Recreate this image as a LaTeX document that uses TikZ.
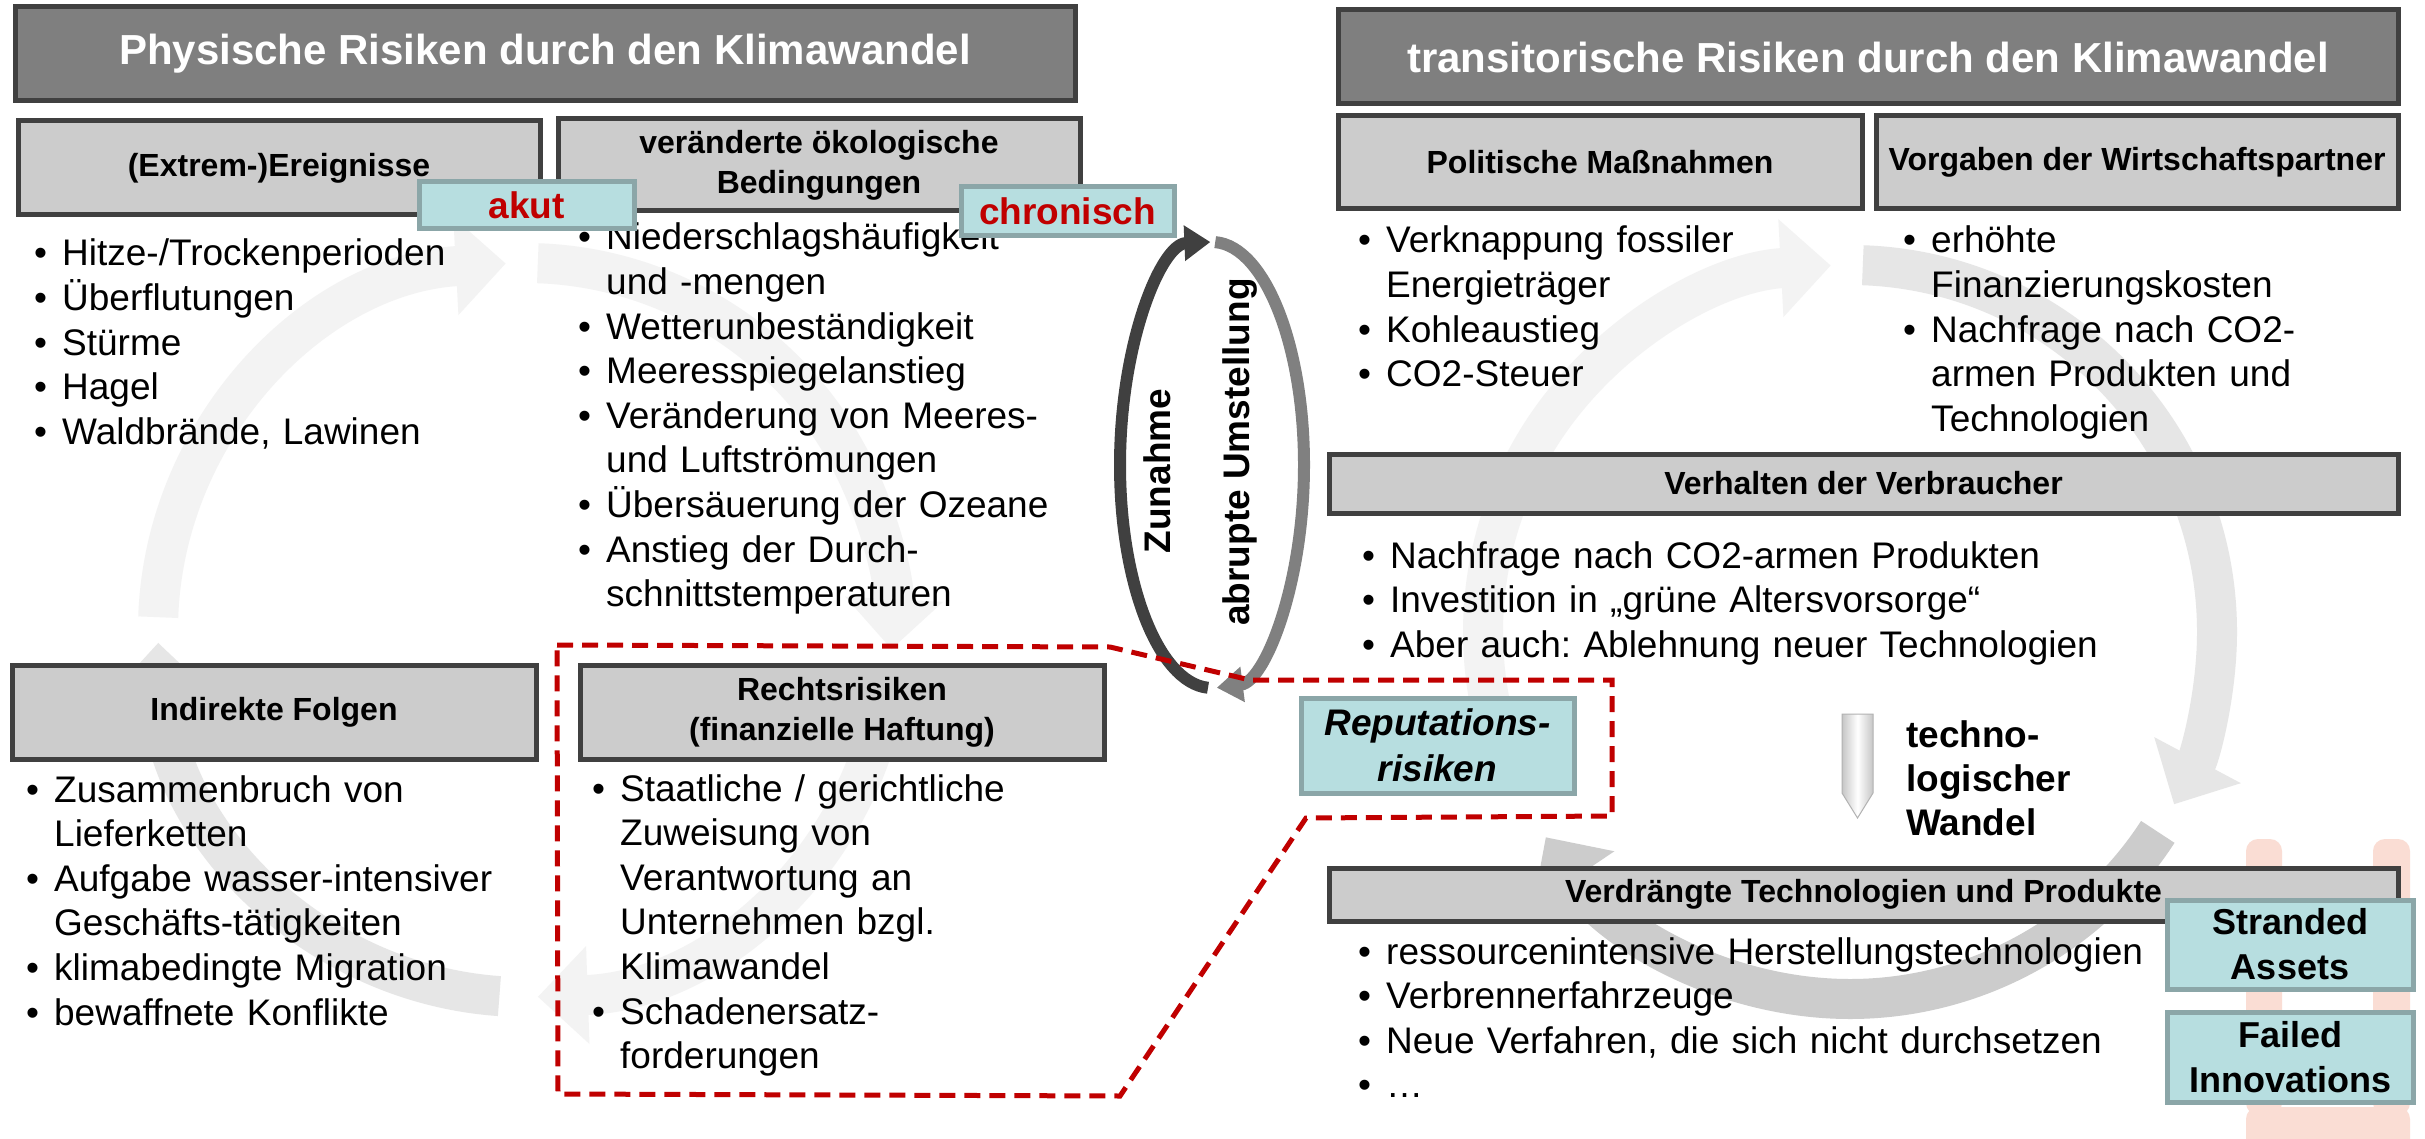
\documentclass[tikz,border=0pt]{standalone}
\usepackage{fontspec}
\setmainfont{Liberation Sans}
\usetikzlibrary{arrows.meta,shapes.geometric}
\frenchspacing

\definecolor{titlegray}{HTML}{7F7F7F}
\definecolor{boxgray}{HTML}{CCCCCC}
\definecolor{edgegray}{HTML}{404040}
\definecolor{cyanfill}{HTML}{B7DEE0}
\definecolor{cyanedge}{HTML}{8BA6A8}
\definecolor{darkred}{HTML}{C00000}
\definecolor{pinkbg}{HTML}{FADDD4}
\definecolor{arcA}{HTML}{F3F3F3}
\definecolor{arcB}{HTML}{E6E6E6}
\definecolor{arcC}{HTML}{CCCCCC}
\definecolor{ovaldark}{HTML}{404040}
\definecolor{ovallight}{HTML}{808080}

\newcommand{\bodyfont}{\fontsize{37}{44.6}\selectfont}
\newcommand{\hdrfont}{\bfseries\fontsize{32}{40}\selectfont}
\newcommand{\bpt}[1]{\hangindent=28pt\hangafter=1\noindent\makebox[28pt][l]{•}#1\par}

\tikzset{
  titlebox/.style={draw=edgegray, fill=titlegray, line width=5, text=white,
    font=\bfseries\fontsize{42}{50}\selectfont, inner sep=0},
  hdrbox/.style={draw=edgegray, fill=boxgray, line width=5, font=\hdrfont,
    align=center, inner sep=0},
  tagbox/.style={draw=cyanedge, fill=cyanfill, line width=5,
    font=\bfseries\fontsize{37}{45}\selectfont, align=center, inner sep=0},
  bullets/.style={anchor=base west, text width=1000, inner sep=0,
    font=\bodyfont\frenchspacing, align=left},
  bgarc/.style={line width=40, -{Triangle[width=95pt,length=50pt]}},
  oval/.style={line width=12, -{Triangle[width=34pt,length=26pt]}},
  riskline/.style={draw=darkred, line width=5, dash pattern=on 16pt off 9pt},
}

\begin{document}
\begin{tikzpicture}[x=1pt,y=-1pt]
\useasboundingbox (0,0) rectangle (2425,1139);
\fill[white] (0,0) rectangle (2425,1139);

% background cycle arrows (left)
\draw[bgarc, arcA] (525,630) ++(182:367) arc[start angle=182, end angle=267, radius=367];
\draw[bgarc, arcA] (525,630) ++(272:367) arc[start angle=272, end angle=363, radius=367];
\draw[bgarc, arcA] (525,630) ++(8:367) arc[start angle=8, end angle=88, radius=367];
\draw[bgarc, arcB] (525,630) ++(94:367) arc[start angle=94, end angle=178, radius=367];
% background cycle arrows (right)
\draw[bgarc, arcA] (1850,632) ++(155:367) arc[start angle=155, end angle=267, radius=367];
\draw[bgarc, arcB] (1850,632) ++(272:367) arc[start angle=272, end angle=388, radius=367];
\draw[bgarc, arcC] (1850,632) ++(33:367) arc[start angle=33, end angle=146, radius=367];

% pink background shape
\fill[pinkbg, rounded corners=12] (2246,839) rectangle (2282,1115);
\fill[pinkbg, rounded corners=12] (2373,839) rectangle (2410,1115);
\fill[pinkbg, rounded corners=12] (2246,1107) rectangle (2410,1160);

% bullet texts
\node[bullets] (lb) at (34,266) {\bpt{Hitze-/Trockenperioden}\bpt{Überflutungen}\bpt{Stürme}\bpt{Hagel}\bpt{Waldbrände, Lawinen}};
\node[bullets] (mb) at (578,250) {\bpt{Niederschlagshäufigkeit\newline und -mengen}\bpt{Wetterunbeständigkeit}\bpt{Meeresspiegelanstieg}\bpt{Veränderung von Meeres-\newline und Luftströmungen}\bpt{Übersäuerung der Ozeane}\bpt{Anstieg der Durch-\newline schnittstemperaturen}};
\node[bullets] (ib) at (26,802) {\bpt{Zusammenbruch von\newline Lieferketten}\bpt{Aufgabe wasser-intensiver\newline Geschäfts-tätigkeiten}\bpt{klimabedingte Migration}\bpt{bewaffnete Konflikte}};
\node[bullets] (rb) at (592,801) {\bpt{Staatliche / gerichtliche\newline Zuweisung von\newline Verantwortung an\newline Unternehmen bzgl.\newline Klimawandel}\bpt{Schadenersatz-\newline forderungen}};
\node[bullets] (pb) at (1358,253) {\bpt{Verknappung fossiler\newline Energieträger}\bpt{Kohleaustieg}\bpt{CO2-Steuer}};
\node[bullets] (vb) at (1903,253) {\bpt{erhöhte\newline Finanzierungskosten}\bpt{Nachfrage nach CO2-\newline armen Produkten und\newline Technologien}};
\node[bullets] (hb) at (1362,568) {\bpt{Nachfrage nach CO2-armen Produkten}\bpt{Investition in „grüne Altersvorsorge“}\bpt{Aber auch: Ablehnung neuer Technologien}};
\node[bullets] (db) at (1358,964) {\bpt{ressourcenintensive Herstellungstechnologien}\bpt{Verbrennerfahrzeuge}\bpt{Neue Verfahren, die sich nicht durchsetzen}\bpt{…}};

% title boxes
\node[titlebox, minimum width=1060, minimum height=94] (tphys) at (545,54) {Physische Risiken durch den Klimawandel};
\node[titlebox, minimum width=1060, minimum height=94] (ttrans) at (1868,57) {transitorische Risiken durch den Klimawandel};

% header boxes
\node[hdrbox, minimum width=522, minimum height=94] (hext) at (279,168) {(Extrem-)Ereignisse};
\node[hdrbox, minimum width=522, minimum height=92] (hoek) at (819,165) {veränderte ökologische\\Bedingungen};
\node[hdrbox, minimum width=524, minimum height=94] (hind) at (274,712) {Indirekte Folgen};
\node[hdrbox, minimum width=524, minimum height=94] (hrecht) at (842,712) {Rechtsrisiken\\(finanzielle Haftung)};
\node[hdrbox, minimum width=524, minimum height=93] (hpol) at (1600,162.5) {Politische Maßnahmen};
\node[hdrbox, minimum width=522, minimum height=93] (hvorg) at (2137,162.5) {Vorgaben der Wirtschaftspartner};
\node[hdrbox, minimum width=1069, minimum height=59] (hverh) at (1863.5,483.5) {Verhalten der Verbraucher};
\node[hdrbox, minimum width=1069, minimum height=53] (hverd) at (1863.5,894.5) {Verdrängte Technologien und Produkte};

% tag boxes
\node[tagbox, text=darkred, minimum width=215, minimum height=47] (takut) at (526.5,205.5) {akut};
\node[tagbox, text=darkred, minimum width=213, minimum height=49] (tchron) at (1067.5,211.5) {chronisch};
\node[tagbox, font=\bfseries\itshape\fontsize{37}{46}\selectfont, minimum width=273, minimum height=95] (trep) at (1437.5,745.5) {Reputations-\\risiken};
\node[tagbox, font=\bfseries\fontsize{36}{45}\selectfont, minimum width=246, minimum height=89] (tstr) at (2290,944.5) {Stranded\\Assets};
\node[tagbox, font=\bfseries\fontsize{36}{45}\selectfont, minimum width=246, minimum height=90] (tfail) at (2290,1057) {Failed\\Innovations};

% technological change arrow and label
\shade[left color=gray!45, right color=gray!45, middle color=white, draw=gray!60, line width=1]
  (1842,714) -- (1873,714) -- (1873,793) -- (1857.5,818) -- (1842,793) -- cycle;
\node[anchor=base west, text width=300, inner sep=0, align=left,
  font=\bfseries\fontsize{37}{44}\selectfont] (tech) at (1906,747) {techno-\\logischer\\Wandel};

% oval arrows
\draw[oval, ovaldark] (1212,465) ++(92.5:92 and 223) arc[start angle=92.5, end angle=269, x radius=92, y radius=223];
\draw[oval, ovallight] (1212,465) ++(-88:92 and 223) arc[start angle=-88, end angle=87, x radius=92, y radius=223];
\node[rotate=90, font=\bfseries\fontsize{37}{44}\selectfont, inner sep=0] (zun) at (1157,471) {Zunahme};
\node[rotate=90, font=\bfseries\fontsize{37}{44}\selectfont, inner sep=0] (abr) at (1240,452) {abrupte Umstellung};

% red dashed outline
\draw[riskline] (557,645) -- (1110,647) -- (1250,680) -- (1612,680) -- (1612,816)
  -- (1306,818) -- (1120,1096) -- (558,1094) -- cycle;
\end{tikzpicture}
\end{document}
